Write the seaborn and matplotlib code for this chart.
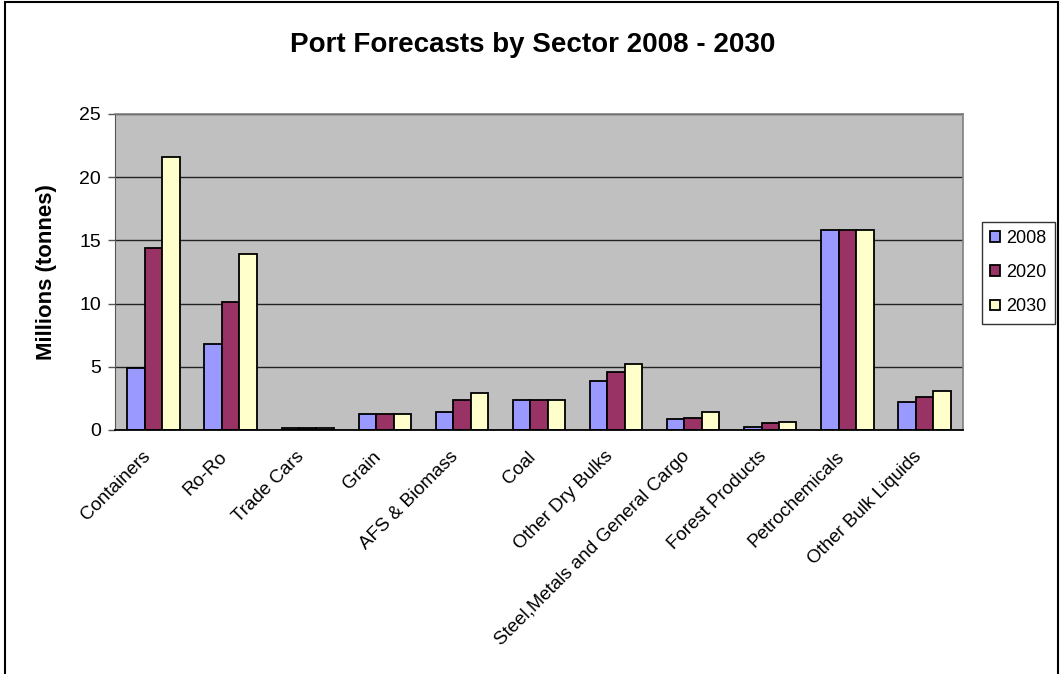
import matplotlib
matplotlib.use("Agg")
import matplotlib.pyplot as plt
import matplotlib.transforms as mtransforms
import seaborn as sns
import pandas as pd
import numpy as np
from matplotlib.patches import Rectangle

# Data
sectors = [
    "Containers", "Ro-Ro", "Trade Cars", "Grain", "AFS & Biomass", "Coal",
    "Other Dry Bulks", "Steel,Metals and General Cargo", "Forest Products",
    "Petrochemicals", "Other Bulk Liquids",
]
years = ["2008", "2020", "2030"]
values_2008 = [4.9, 6.8, 0.12, 1.24, 1.4, 2.35, 3.85, 0.85, 0.26, 15.8, 2.2]
values_2020 = [14.4, 10.1, 0.12, 1.24, 2.35, 2.35, 4.56, 0.95, 0.55, 15.8, 2.6]
values_2030 = [21.6, 13.9, 0.12, 1.24, 2.9, 2.35, 5.25, 1.4, 0.66, 15.8, 3.06]
colors = ["#9999FF", "#993366", "#FFFFCC"]

df = pd.DataFrame({
    "sector": sectors * 3,
    "year": [y for y in years for _ in sectors],
    "value": values_2008 + values_2020 + values_2030,
})

sns.set_style("white")
plt.rcParams["font.family"] = ["Liberation Sans", "DejaVu Sans"]
plt.rcParams.update({
    "text.color": "black",
    "axes.labelcolor": "black",
    "xtick.color": "black",
    "ytick.color": "black",
})

fig = plt.figure(figsize=(10.6, 6.74), dpi=100)
ax = fig.add_axes([115 / 1060, 1 - 430 / 674, (963 - 115) / 1060, (430 - 114) / 674])

sns.barplot(
    data=df, x="sector", y="value", hue="year",
    palette=colors, width=0.68, edgecolor="black", linewidth=1.3,
    saturation=1, ax=ax, legend=True,
)

ax.set_facecolor("#C0C0C0")
ax.set_ylim(0, 25)
ax.set_xlim(-0.5, len(sectors) - 0.5)
ax.set_yticks(np.arange(0, 26, 5))
ax.yaxis.grid(True, color="#222222", linewidth=1.0)
ax.set_axisbelow(True)

for side in ["top", "right"]:
    ax.spines[side].set_color("#808080")
    ax.spines[side].set_linewidth(1.2)
ax.spines["left"].set_color("#555555")
ax.spines["bottom"].set_color("#000000")
ax.spines["bottom"].set_linewidth(1.3)

# category ticks at group boundaries
ax.set_xticks(np.arange(-0.5, len(sectors), 1.0), minor=True)
ax.tick_params(axis="x", which="minor", length=5, width=1, color="#555555", direction="out")
ax.tick_params(axis="x", which="major", length=0, pad=8)
ax.tick_params(axis="y", which="major", length=5, width=1, color="#555555",
               direction="out", left=True, labelsize=14, pad=5)
ax.set_xticks(range(len(sectors)))
ax.set_xticklabels(sectors, rotation=45, ha="right", rotation_mode="anchor",
                   fontsize=13.5)
shift = mtransforms.ScaledTranslation(-0.12, -0.07, fig.dpi_scale_trans)
for lbl in ax.get_xticklabels():
    lbl.set_transform(lbl.get_transform() + shift)

ax.set_xlabel("")
ax.set_ylabel("Millions (tonnes)", fontsize=16, fontweight="bold", labelpad=16)

fig.suptitle("Port Forecasts by Sector 2008 - 2030", fontsize=20,
             fontweight="bold", x=0.503, y=1 - 45 / 674, va="center")

handles, labels = ax.get_legend_handles_labels()
ax.legend(
    handles, labels, loc="upper left",
    bbox_to_anchor=(982 / 1060, 1 - 222 / 674), bbox_transform=fig.transFigure,
    frameon=True, fancybox=False, edgecolor="black", fontsize=13,
    handlelength=0.55, handleheight=0.55, handletextpad=0.35,
    borderpad=0.45, labelspacing=0.95, borderaxespad=0,
)
ax.get_legend().get_frame().set_linewidth(1.0)

# chart area border
fig.patches.append(Rectangle((5 / 1060, -0.05), 1 - 7 / 1060, 1.05 - 2 / 674,
                             transform=fig.transFigure, fill=False,
                             edgecolor="black", linewidth=1.5))

fig.savefig("out.png", dpi=100)
plt.close(fig)
